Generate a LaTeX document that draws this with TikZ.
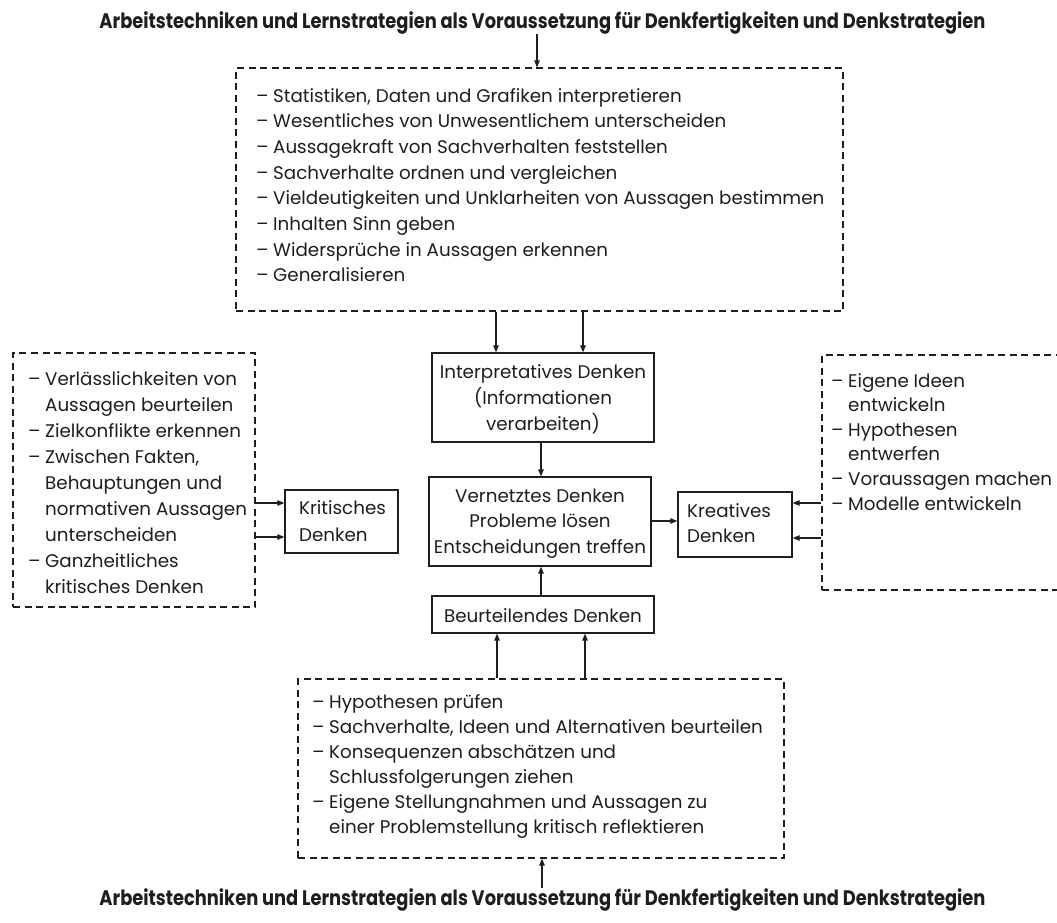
\documentclass[tikz,border=0pt]{standalone}
\usepackage{fontspec}
\setmainfont{Poppins}
\newfontfamily\titlefont{Poppins}[FakeStretch=0.85]
\usetikzlibrary{arrows.meta}
\definecolor{ink}{HTML}{1E1E1E}

% left-aligned and centred line stacks; baseline = first line
\newcommand\lst[2]{\vtop{\baselineskip=#1\relax\lineskiplimit=-100pt\lineskip=0pt\halign{##\hfil\cr#2\crcr}}}
\newcommand\ctr[2]{\vtop{\baselineskip=#1\relax\lineskiplimit=-100pt\lineskip=0pt\halign{\hfil##\hfil\cr#2\crcr}}}
\newcommand\di{\makebox[17pt][l]{–}}
\newcommand\ci{\hspace*{17pt}}
\newcommand\headline{Arbeitstechniken und Lernstrategien als Voraussetzung für Denkfertigkeiten und Denkstrategien}

\tikzset{
  dbox/.style={draw=ink, line width=1.1pt, dash pattern=on 7pt off 4.5pt, inner sep=0pt},
  sbox/.style={draw=ink, line width=1.3pt, inner sep=0pt},
  txt/.style={inner sep=0pt, text=ink, font=\fontsize{18.3}{22}\selectfont, anchor=base west},
  ctxt/.style={txt, anchor=base},
  ttl/.style={inner sep=0pt, text=ink, font=\titlefont\bfseries\fontsize{21}{25}\selectfont, anchor=base},
  arr/.style={draw=ink, line width=1.1pt, -{Triangle[length=7pt,width=5.5pt]}},
}

\begin{document}
\begin{tikzpicture}[x=1pt,y=-1pt]
\useasboundingbox (0,0) rectangle (1057,922);

% column and row positions of the connectors
\coordinate (xa) at (537,0);
\coordinate (xb1) at (496,0);
\coordinate (xb2) at (583,0);
\coordinate (xc) at (541,0);
\coordinate (xd1) at (497,0);
\coordinate (xd2) at (585,0);
\coordinate (xe) at (542,0);
\coordinate (ya1) at (0,503);
\coordinate (ya2) at (0,537);
\coordinate (yb) at (0,521);
\coordinate (yc1) at (0,503);
\coordinate (yc2) at (0,538);

% headlines
\node[ttl] (ttop) at (542.5,28) {\headline};
\node[ttl] (tbot) at (542.5,905) {\headline};

% dashed skill lists
\node[dbox, minimum width=607pt, minimum height=243pt] (topbox) at (539.5,189.5) {};
\node[txt] (toptxt) at (256,102) {\lst{25.7pt}{%
\di Statistiken, Daten und Grafiken interpretieren\cr
\di Wesentliches von Unwesentlichem unterscheiden\cr
\di Aussagekraft von Sachverhalten feststellen\cr
\di Sachverhalte ordnen und vergleichen\cr
\di Vieldeutigkeiten und Unklarheiten von Aussagen bestimmen\cr
\di Inhalten Sinn geben\cr
\di Widersprüche in Aussagen erkennen\cr
\di Generalisieren}};

\node[dbox, minimum width=242pt, minimum height=254pt] (leftbox) at (134,480) {};
\node[txt] (lefttxt) at (28,385) {\lst{26pt}{%
\di Verlässlichkeiten von\cr
\ci Aussagen beurteilen\cr
\di Zielkonflikte erkennen\cr
\di Zwischen Fakten,\cr
\ci Behauptungen und\cr
\ci normativen Aussagen\cr
\ci unterscheiden\cr
\di Ganzheitliches\cr
\ci kritisches Denken}};

\begin{scope}
\clip (0,0) rectangle (1057,922);
\node[dbox, minimum width=250pt, minimum height=235pt] (rightbox) at (947,472.5) {};
\end{scope}
\node[txt] (righttxt) at (831,387) {\lst{24.6pt}{%
\di Eigene Ideen\cr
\ci entwickeln\cr
\di Hypothesen\cr
\ci entwerfen\cr
\di Voraussagen machen\cr
\di Modelle entwickeln}};

\node[dbox, minimum width=486pt, minimum height=179pt] (botbox) at (541,768.5) {};
\node[txt] (bottxt) at (312,708) {\lst{25pt}{%
\di Hypothesen prüfen\cr
\di Sachverhalte, Ideen und Alternativen beurteilen\cr
\di Konsequenzen abschätzen und\cr
\ci Schlussfolgerungen ziehen\cr
\di Eigene Stellungnahmen und Aussagen zu\cr
\ci einer Problemstellung kritisch reflektieren}};

% thinking modes
\node[sbox, minimum width=222pt, minimum height=89pt] (interp) at (543,397.5) {};
\node[ctxt] (interptxt) at (543,378) {\ctr{26pt}{Interpretatives Denken\cr (Informationen\cr verarbeiten)}};

\node[sbox, minimum width=222pt, minimum height=89pt] (vern) at (540,521.5) {};
\node[ctxt] (verntxt) at (540,502) {\ctr{25.5pt}{Vernetztes Denken\cr Probleme lösen\cr Entscheidungen treffen}};

\node[sbox, minimum width=222pt, minimum height=37pt] (beurt) at (543,614.5) {};
\node[ctxt] (beurttxt) at (543,622) {Beurteilendes Denken};

\node[sbox, minimum width=113pt, minimum height=63pt] (krit) at (341.5,521.5) {};
\node[txt] (krittxt) at (299,514) {\lst{27pt}{Kritisches\cr Denken}};

\node[sbox, minimum width=114pt, minimum height=65pt] (kreat) at (735,524.5) {};
\node[txt] (kreattxt) at (687,517) {\lst{25pt}{Kreatives\cr Denken}};

% connectors
\draw[arr] (ttop.south -| xa) -- (topbox.north -| xa);
\draw[arr] (topbox.south -| xb1) -- (interp.north -| xb1);
\draw[arr] (topbox.south -| xb2) -- (interp.north -| xb2);
\draw[arr] (interp.south -| xc) -- (vern.north -| xc);
\draw[arr] (beurt.north -| xc) -- (vern.south -| xc);
\draw[arr] (botbox.north -| xd1) -- (beurt.south -| xd1);
\draw[arr] (botbox.north -| xd2) -- (beurt.south -| xd2);
\draw[arr] (tbot.north -| xe) -- (botbox.south -| xe);
\draw[arr] (leftbox.east |- ya1) -- (krit.west |- ya1);
\draw[arr] (leftbox.east |- ya2) -- (krit.west |- ya2);
\draw[arr] (vern.east |- yb) -- (kreat.west |- yb);
\draw[arr] (rightbox.west |- yc1) -- (kreat.east |- yc1);
\draw[arr] (rightbox.west |- yc2) -- (kreat.east |- yc2);
\end{tikzpicture}
\end{document}
